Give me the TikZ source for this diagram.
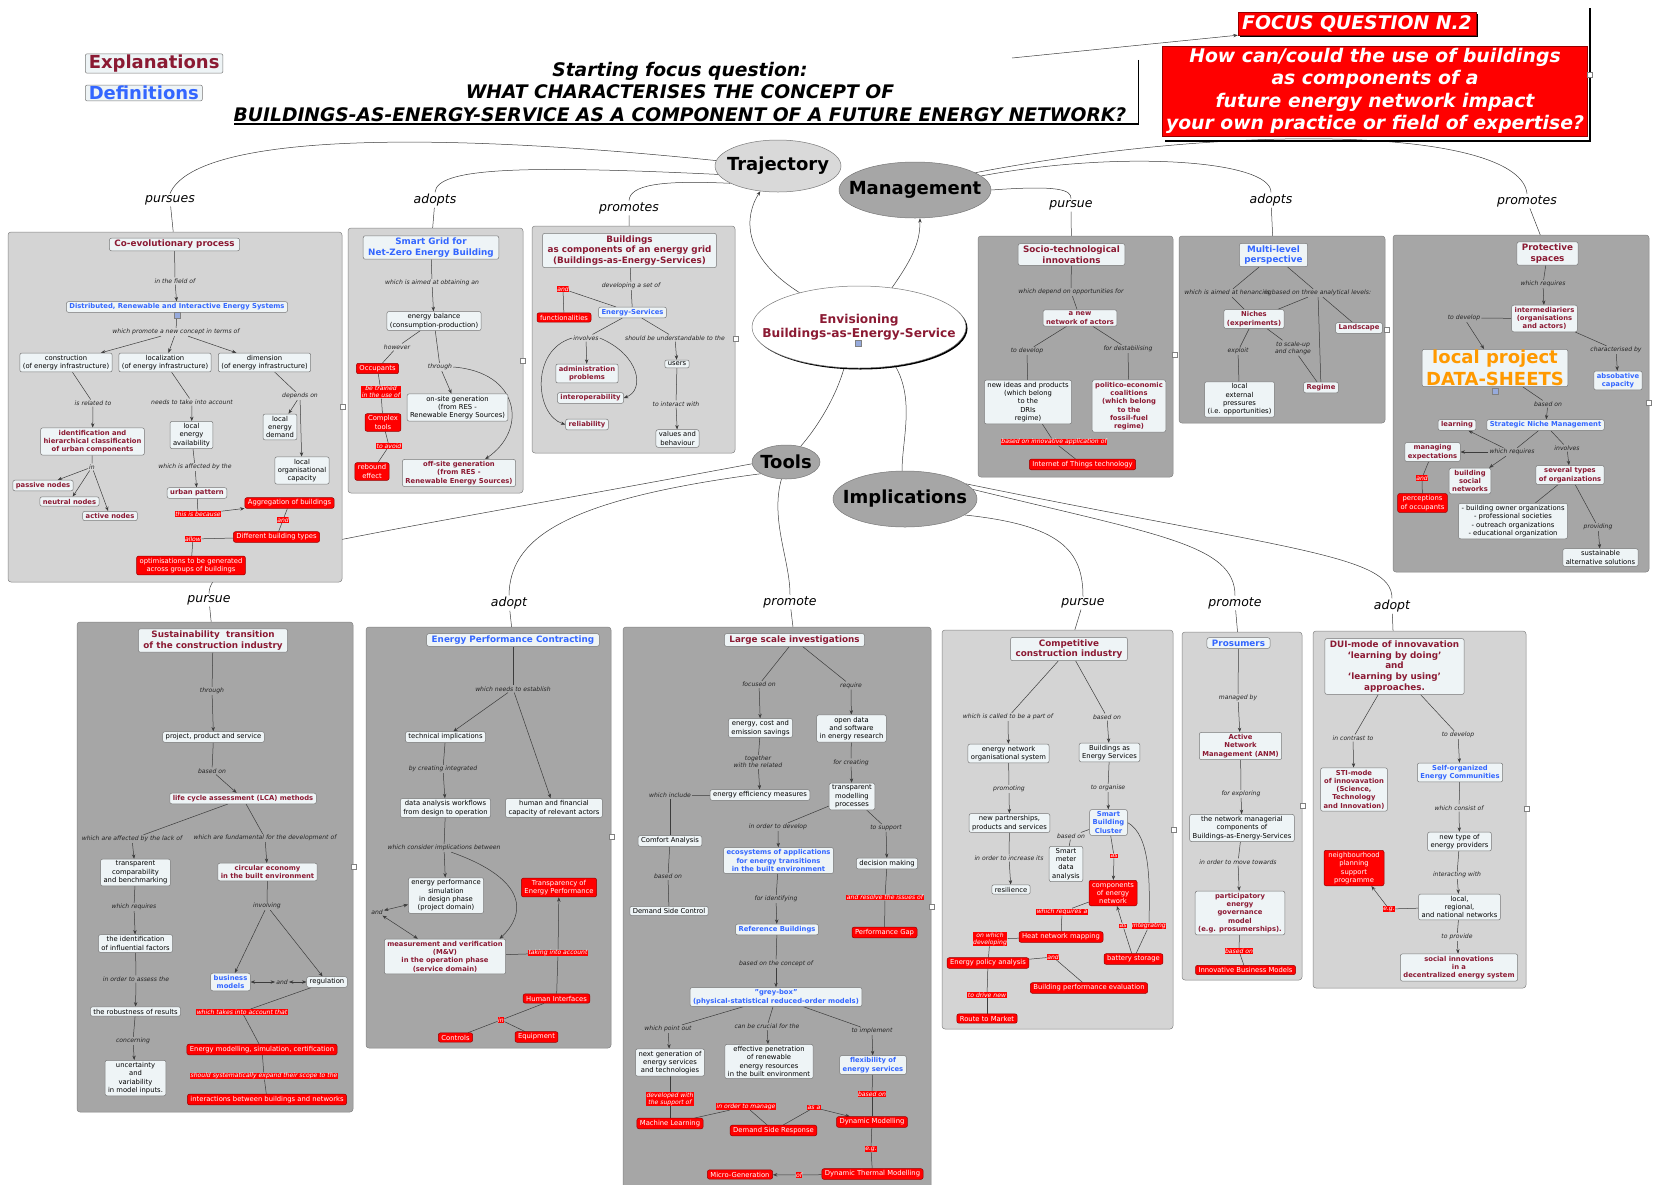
\documentclass[tikz,border=0pt]{standalone}
\usepackage{fontspec}
\setmainfont{DejaVu Sans}
\usetikzlibrary{arrows.meta,shapes.geometric,shadows}
\definecolor{expred}{RGB}{139,26,51}
\definecolor{defblue}{RGB}{51,102,255}
\definecolor{nodefill}{RGB}{238,244,246}
\definecolor{nodeline}{RGB}{120,120,120}
\definecolor{paneLight}{RGB}{212,212,212}
\definecolor{paneDark}{RGB}{166,166,166}
\definecolor{paneline}{RGB}{130,130,130}
\definecolor{linkgray}{RGB}{60,60,60}
\definecolor{labgray}{RGB}{35,35,35}
\definecolor{boxred}{RGB}{150,0,0}
\definecolor{sheetorange}{RGB}{255,153,0}
\definecolor{hubLight}{RGB}{217,217,217}
\definecolor{hubDark}{RGB}{166,166,166}
\definecolor{iconblue}{RGB}{150,170,220}
\pgfdeclarelayer{links}
\pgfdeclarelayer{panes}
\pgfdeclarelayer{inner}
\pgfsetlayers{links,panes,inner,main}
\tikzset{
  cpt/.style={draw=nodeline, fill=nodefill, rounded corners=2pt, line width=0.5pt, align=center, inner xsep=3pt, inner ysep=2pt, text=black, font=\fontsize{6.8}{8.3}\selectfont},
  cptred/.style={cpt, text=expred, font=\bfseries\fontsize{6.8}{8.3}\selectfont},
  cptblue/.style={cpt, text=defblue, font=\bfseries\fontsize{6.8}{8.3}\selectfont},
  headred/.style={cpt, inner xsep=5pt, text=expred, font=\bfseries\fontsize{8.8}{10.8}\selectfont},
  headblue/.style={cpt, inner xsep=5pt, text=defblue, font=\bfseries\fontsize{8.8}{10.8}\selectfont},
  redcpt/.style={cpt, draw=boxred, fill=red, text=white},
  lab/.style={inner sep=1pt, align=center, text=labgray, font=\itshape\fontsize{6.1}{7.2}\selectfont},
  redlab/.style={lab, fill=red, inner sep=0.5pt, text=white},
  toplab/.style={inner sep=1.5pt, text=black, font=\itshape\fontsize{12.5}{15}\selectfont},
  hub/.style={ellipse, draw=nodeline, line width=0.5pt, inner sep=-30pt, align=center, text=black, font=\bfseries\fontsize{18}{20}\selectfont},
  pane/.style={draw=paneline, line width=0.5pt, rounded corners=3pt},
  conn/.style={draw=linkgray, line width=0.5pt},
  legend/.style={cpt, inner xsep=3.5pt, inner ysep=1pt, font=\bfseries\fontsize{18}{21}\selectfont},
  sheet/.style={cpt, inner xsep=4pt, inner ysep=1pt, text=sheetorange, font=\bfseries\fontsize{18}{21.5}\selectfont},
  focusbox/.style={draw=boxred, fill=red, text=white, align=center, inner sep=0pt, font=\bfseries\itshape\fontsize{18.8}{22.5}\selectfont},
  headline/.style={align=center, inner sep=0pt, minimum width=890pt, minimum height=64pt, font=\bfseries\itshape\fontsize{18.7}{22.5}\selectfont}
}

\begin{document}
\begin{tikzpicture}[x=1pt,y=-1pt,>={Stealth[length=4.5pt,width=3.4pt]}]
\useasboundingbox (0,0) rectangle (1662,1184);

\node[legend,text=expred,anchor=west] (explan) at (85,63.5) {Explanations};
\node[legend,text=defblue,anchor=west] (defin) at (85,93) {Definitions};
\node[headline] (fq) at (680,92) {Starting focus question:\\WHAT CHARACTERISES THE CONCEPT OF\\BUILDINGS-AS-ENERGY-SERVICE AS A COMPONENT OF A FUTURE ENERGY NETWORK?};
\draw[line width=1.5pt] ([xshift=12pt]fq.north east) -- ([xshift=12pt]fq.south east) -- (fq.south west);
\coordinate (fqtail) at (1012,58);
\node[focusbox,minimum width=238pt,minimum height=23pt,drop shadow={shadow xshift=2pt,shadow yshift=-2pt,fill=black,opacity=1}] (focus) at (1357,23.5) {FOCUS QUESTION N.2};
\node[focusbox,minimum width=425pt,minimum height=90pt] (bigq) at (1375,91) {How can/could the use of buildings\\as components of a\\future energy network impact\\your own practice or field of expertise?};
\draw[line width=1.5pt] (1590,8) -- (1590,141) -- (1165,141);

\node[hub,fill=hubLight,minimum width=126pt,minimum height=52pt] (traj) at (778,166) {Trajectory};
\node[hub,fill=hubDark,minimum width=152pt,minimum height=56pt] (mgmt) at (915,190) {Management};
\node[hub,fill=white,text=expred,font=\bfseries\fontsize{12.2}{14.5}\selectfont,minimum width=214pt,minimum height=82pt,drop shadow={shadow xshift=1.5pt,shadow yshift=-1.5pt,fill=black,opacity=1}] (env) at (859,327) {Envisioning\\Buildings-as-Energy-Service};
\node[hub,fill=hubDark,minimum width=68pt,minimum height=34pt] (tools) at (786,462) {Tools};
\node[hub,fill=hubDark,minimum width=144pt,minimum height=56pt] (impl) at (905,499) {Implications};

\node[toplab] (lpursues) at (170,200) {pursues};
\node[toplab] (ladopts) at (435,200) {adopts};
\node[toplab] (lpromotes) at (629,208) {promotes};
\node[toplab] (lpursueM) at (1071,205) {pursue};
\node[toplab] (ladoptsM) at (1271,200) {adopts};
\node[toplab] (lpromotesM) at (1527,201) {promotes};
\node[toplab] (lpursueT) at (209,600) {pursue};
\node[toplab] (ladoptT) at (509,603) {adopt};
\node[toplab] (lpromoteT) at (790,602) {promote};
\node[toplab] (lpursueI) at (1083,603) {pursue};
\node[toplab] (lpromoteI) at (1235,603) {promote};
\node[toplab] (ladoptI) at (1392,606) {adopt};

\node[headred] (coevo) at (174.5,244.5) {Co-evolutionary process};
\node[lab] (lfield) at (175,281) {in the field of};
\node[cptblue] (dries) at (177,307) {Distributed, Renewable and Interactive Energy Systems};
\node[lab] (lpromote) at (176,332) {which promote a new concept in terms of};
\node[cpt] (constr) at (66,362.5) {construction\\(of energy infrastructure)};
\node[cpt] (locali) at (165,362.5) {localization\\(of energy infrastructure)};
\node[cpt] (dimen) at (264.5,362.5) {dimension\\(of energy infrastructure)};
\node[lab] (lrelated) at (93,403) {is related to};
\node[lab] (laccount) at (192,402) {needs to take into account};
\node[lab] (ldepends) at (300,396) {depends on};
\node[cptred] (ident) at (92.5,441.5) {identification and\\hierarchical classification\\of urban components};
\node[cpt] (avail) at (191.5,435) {local\\energy\\availability};
\node[cpt] (ldem) at (280,427) {local\\energy\\demand};
\node[cpt] (lorg) at (302,470.5) {local\\organisational\\capacity};
\node[lab] (lin) at (92,467) {in};
\node[cptred] (passive) at (43,485.5) {passive nodes};
\node[cptred] (neutral) at (69.5,501.5) {neutral nodes};
\node[cptred] (active) at (110,516) {active nodes};
\node[lab] (laffect) at (195,467) {which is affected by the};
\node[cptred] (urban) at (197,493) {urban pattern};
\node[redlab] (lbecause) at (198,514) {this is because};
\node[redcpt] (aggr) at (289.5,503) {Aggregation of buildings};
\node[redlab] (land1) at (283,520) {and};
\node[redcpt] (difft) at (276.5,537) {Different building types};
\node[redlab] (lallow) at (193,539) {allow};
\node[redcpt] (optim) at (191,565.5) {optimisations to be generated\\across groups of buildings};

\node[headblue] (sgrid) at (431,247.5) {Smart Grid for\\Net-Zero Energy Building};
\node[lab] (laimed) at (432,283) {which is aimed at obtaining an};
\node[cpt] (ebal) at (434,321) {energy balance\\(consumption-production)};
\node[lab] (lhowever) at (397,347) {however};
\node[lab] (lthrough) at (440,367) {through};
\node[redcpt] (occup) at (377.5,368.5) {Occupants};
\node[redlab] (ltrained) at (381,392) {be trained\\in the use of};
\node[redcpt] (complex) at (383,422.5) {Complex\\tools};
\node[redlab] (lavoid) at (389,446) {to avoid};
\node[redcpt] (rebound) at (372,471.5) {rebound\\effect};
\node[cpt] (onsite) at (457.5,407.5) {on-site generation\\(from RES -\\Renewable Energy Sources)};
\node[cptred] (offsite) at (459,473) {off-site generation\\(from RES -\\Renewable Energy Sources)};

\node[headred] (bldg) at (629.5,250.5) {Buildings\\as components of an energy grid\\(Buildings-as-Energy-Services)};
\node[lab] (lset) at (631,286) {developing a set of};
\node[cptblue] (eserv) at (632.5,312.5) {Energy-Services};
\node[redlab] (land2) at (563,289) {and};
\node[redcpt] (funct) at (564,317.5) {functionalities};
\node[lab] (linvolves) at (586,338) {involves};
\node[lab] (lunderst) at (675,338) {should be understandable to the};
\node[cptred] (admin) at (587,373.5) {administration\\problems};
\node[cptred] (interop) at (590.5,398) {interoperability};
\node[cptred] (reliab) at (587,424.5) {reliability};
\node[cpt] (users) at (677,364) {users};
\node[lab] (linteract) at (676,404) {to interact with};
\node[cpt] (values) at (677.5,438.5) {values and\\behaviour};

\node[headred] (socio) at (1071.5,254.5) {Socio-technological\\innovations};
\node[lab] (lopport) at (1071,292) {which depend on opportunities for};
\node[cptred] (netact) at (1080,318) {a new\\network of actors};
\node[lab] (ldevelop) at (1027,351) {to develop};
\node[lab] (ldestab) at (1128,349) {for destabilising};
\node[cpt] (newideas) at (1028,402) {new ideas and products\\(which belong\\to the\\DRIs\\regime)};
\node[cptred] (polit) at (1129,406) {politico-economic\\coalitions\\(which belong\\to the\\fossil-fuel\\regime)};
\node[redlab] (linnov) at (1054,442) {based on innovative application of};
\node[redcpt] (iot) at (1082.5,464.5) {Internet of Things technology};

\node[headblue] (mlp) at (1273.5,255) {Multi-level\\perspective};
\node[lab] (lhenanc) at (1228,293) {which is aimed at henancing};
\node[lab] (lthree) at (1318,293) {is based on three analytical levels:};
\node[cptred] (niches) at (1254,319) {Niches\\(experiments)};
\node[lab] (lexploit) at (1238,351) {exploit};
\node[lab] (lscale) at (1293,348) {to scale-up\\and change};
\node[cpt] (lexternal) at (1239.5,399.5) {local\\external\\pressures\\(i.e. opportunities)};
\node[cptred] (regime) at (1321,387.5) {Regime};
\node[cptred] (landsc) at (1359,328) {Landscape};

\node[headred] (protect) at (1547.5,253.5) {Protective\\spaces};
\node[lab] (lreq1) at (1543,284) {which requires};
\node[cptred] (interm) at (1544.5,318.5) {intermediariers\\(organisations\\and actors)};
\node[lab] (ldev2) at (1464,318) {to develop};
\node[lab] (lcharac) at (1616,350) {characterised by};
\node[sheet] (sheets) at (1495,368) {local project\\DATA-SHEETS};
\node[cptblue] (absob) at (1618,380.5) {absobative\\capacity};
\node[lab] (lbased2) at (1548,404) {based on};
\node[cptblue] (snm) at (1545.5,425) {Strategic Niche Management};
\node[cptred] (learning) at (1457,425) {learning};
\node[lab] (lreq2) at (1512,452) {which requires};
\node[cptred] (manag) at (1432.5,452) {managing\\expectations};
\node[cptred] (socnet) at (1470,481) {building\\social\\networks};
\node[lab] (linv2) at (1567,448) {involves};
\node[cptred] (several) at (1570,475) {several types\\of organizations};
\node[redlab] (land3) at (1422,478) {and};
\node[redcpt] (percept) at (1422.5,503) {perceptions\\of occupants};
\node[cpt] (orglist) at (1513,521) {- building owner organizations\\- professional societies\\- outreach organizations\\- educational organization};
\node[lab] (lprov) at (1598,527) {providing};
\node[cpt] (sustalt) at (1600.5,557.5) {sustainable\\alternative solutions};

\node[headred] (sust) at (213,640.5) {Sustainability~ transition\\of the construction industry};
\node[lab] (lthr2) at (212,691) {through};
\node[cpt] (ppserv) at (213.5,737) {project, product and service};
\node[lab] (lbased3) at (212,771) {based on};
\node[cptred] (lca) at (243,798.5) {life cycle assessment (LCA) methods};
\node[lab] (llack) at (132,839) {which are affected by the lack of};
\node[lab] (lfund) at (265,838) {which are fundamental for the development of};
\node[cpt] (transp) at (135.5,872.5) {transparent\\comparability\\and benchmarking};
\node[cptred] (circ) at (267.5,872) {circular economy\\in the built environment};
\node[lab] (lreq3) at (134,907) {which requires};
\node[lab] (linvolving) at (267,906) {involving};
\node[cpt] (identinf) at (135.5,943.5) {the identification\\of influential factors};
\node[lab] (lassess) at (136,979) {in order to assess the};
\node[cptblue] (business) at (230.5,982) {business\\models};
\node[lab] (land4) at (282,982) {and};
\node[cpt] (regul) at (327,982) {regulation};
\node[cpt] (robust) at (135.5,1011.5) {the robustness of results};
\node[redlab] (ltakes) at (242,1012) {which takes into account that};
\node[redcpt] (energymod) at (262,1049.5) {Energy modelling, simulation, certification};
\node[lab] (lconcern) at (133,1041) {concerning};
\node[cpt] (uncert) at (135.5,1078) {uncertainty\\and\\variability\\in model inputs.};
\node[redlab] (lexpand) at (264,1076) {should systematically expand their scope to the};
\node[redcpt] (interbn) at (267,1099.5) {interactions between buildings and networks};

\node[headblue] (epc) at (513,640) {Energy Performance Contracting};
\node[lab] (lestab) at (513,689) {which needs to establish};
\node[cpt] (techimp) at (445.5,737) {technical implications};
\node[lab] (lcreate) at (443,769) {by creating integrated};
\node[cpt] (dataflow) at (445.5,808) {data analysis workflows\\from design to operation};
\node[cpt] (humfin) at (554,808) {human and financial\\capacity of relevant actors};
\node[lab] (lconsider) at (444,848) {which consider implications between};
\node[cpt] (epsim) at (446,895.5) {energy performance\\simulation\\in design phase\\(project domain)};
\node[lab] (land5) at (377,912) {and};
\node[cptred] (mv) at (445,956.5) {measurement and verification\\(M\&V)\\in the operation phase\\(service domain)};
\node[redcpt] (transpE) at (559,887.5) {Transparency of\\Energy Performance};
\node[redlab] (ltaking) at (558,953) {taking into account};
\node[redcpt] (humint) at (556.5,998.5) {Human Interfaces};
\node[redlab] (lin2) at (501,1020) {in};
\node[redcpt] (controls) at (455.5,1037.5) {Controls};
\node[redcpt] (equip) at (536.5,1037) {Equipment};

\node[headred] (lsi) at (794.5,640) {Large scale investigations};
\node[lab] (lfocus) at (759,684.5) {focused on};
\node[lab] (lrequire) at (851,685.5) {require};
\node[cpt] (ecs) at (760.5,728) {energy, cost and\\emission savings};
\node[cpt] (opendata) at (851.5,728.5) {open data\\and software\\in energy research};
\node[lab] (ltogether) at (758,762) {together\\with the related};
\node[lab] (lcreating) at (851,762.5) {for creating};
\node[cpt] (eem) at (760,795) {energy efficiency measures};
\node[cpt] (tmp) at (852,796.5) {transparent\\modelling\\processes};
\node[lab] (linclude) at (670,795.5) {which include};
\node[cpt] (comfort) at (670,841) {Comfort Analysis};
\node[lab] (lbased4) at (668,876.5) {based on};
\node[cpt] (dsc) at (669,911) {Demand Side Control};
\node[lab] (lorder) at (778,827) {in order to develop};
\node[lab] (lsupport) at (886,828) {to support};
\node[cptblue] (ecosys) at (778.5,860.5) {ecosystems of applications\\for energy transitions\\in the built environment};
\node[cpt] (decis) at (887,863.5) {decision making};
\node[lab] (lidentify) at (776,899) {for identifying};
\node[redlab] (lresolve) at (885,897.5) {and resolve the issues of};
\node[cptblue] (refb) at (777,929.5) {Reference Buildings};
\node[redcpt] (perfgap) at (884.5,932.5) {Performance Gap};
\node[lab] (lconcept) at (776,963.5) {based on the concept of};
\node[cptblue] (greybox) at (776,997) {"grey-box"\\(physical-statistical reduced-order models)};
\node[lab] (lpoint) at (668,1029) {which point out};
\node[lab] (lcrucial) at (767,1026.5) {can be crucial for the};
\node[lab] (limpl) at (872,1031) {to implement};
\node[cpt] (nextgen) at (670,1062.5) {next generation of\\energy services\\and technologies};
\node[cpt] (effpen) at (769,1061.5) {effective penetration\\of renewable\\energy resources\\in the built environment};
\node[cptblue] (flex) at (873,1065) {flexibility of\\energy services};
\node[redlab] (lsupp) at (670,1099) {developed with\\the support of};
\node[redlab] (lbased5) at (872,1094) {based on};
\node[redcpt] (mlearn) at (670,1123.5) {Machine Learning};
\node[redlab] (lmanage) at (746,1106.5) {in order to manage};
\node[redlab] (lasa) at (814,1107.5) {as a};
\node[redcpt] (dsr) at (773.5,1130.5) {Demand Side Response};
\node[redcpt] (dynmod) at (872,1122) {Dynamic Modelling};
\node[redlab] (leg1) at (871,1149) {e.g.};
\node[redcpt] (dtm) at (872.5,1174) {Dynamic Thermal Modelling};
\node[redlab] (lof) at (799,1175) {of};
\node[redcpt] (microgen) at (740,1174.5) {Micro-Generation};

\node[headred] (compet) at (1069,649) {Competitive\\construction industry};
\node[lab] (lpart) at (1008,717) {which is called to be a part of};
\node[lab] (lbased6) at (1107,717) {based on};
\node[cpt] (enos) at (1008.5,753.5) {energy network\\organisational system};
\node[cpt] (baes) at (1109.5,752.5) {Buildings as\\Energy Services};
\node[lab] (lpromoting) at (1009,789) {promoting};
\node[lab] (lorganise) at (1108,788) {to organise};
\node[cpt] (newpart) at (1009.5,823) {new partnerships,\\products and services};
\node[cptblue] (sbc) at (1108.5,822.5) {Smart\\Building\\Cluster};
\node[lab] (lbased7) at (1071,836) {based on};
\node[cpt] (smdata) at (1066,864) {Smart\\meter\\data\\analysis};
\node[lab] (lincrease) at (1009,858) {in order to increase its};
\node[cpt] (resil) at (1011,889.5) {resilience};
\node[redlab] (las1) at (1114,856) {as};
\node[redcpt] (compnet) at (1113,893) {components\\of energy\\network};
\node[redlab] (lreqa) at (1062,912) {which requires a};
\node[redcpt] (heatmap) at (1061,937) {Heat network mapping};
\node[redlab] (lwhich) at (990,939) {on which\\developing};
\node[redcpt] (epa) at (988,963) {Energy policy analysis};
\node[redlab] (land6) at (1053,957) {and};
\node[redcpt] (bpe) at (1089,988) {Building performance evaluation};
\node[redlab] (ldrive) at (987,995) {to drive new};
\node[redcpt] (route) at (987,1018.5) {Route to Market};
\node[redcpt] (battery) at (1133.5,959) {battery storage};
\node[redlab] (las2) at (1123,926) {as};
\node[redlab] (linteg) at (1149,926) {integrating};

\node[headblue] (prosum) at (1238.5,643) {Prosumers};
\node[lab] (lmanaged) at (1238,698) {managed by};
\node[cptred] (anm) at (1240.5,746) {Active\\Network\\Management (ANM)};
\node[lab] (lexplore) at (1241,794) {for exploring};
\node[cpt] (netman) at (1242,828) {the network managerial\\components of\\Buildings-as-Energy-Services};
\node[lab] (ltowards) at (1238,862) {in order to move towards};
\node[cptred] (pegm) at (1240,913) {participatory\\energy\\governance\\model\\(e.g. prosumerships).};
\node[redlab] (lbased8) at (1239,951) {based on};
\node[redcpt] (ibm) at (1245.5,970) {Innovative Business Models};

\node[headred] (dui) at (1394.5,666.5) {DUI-mode of innovavation\\`learning by doing'\\and\\`learning by using'\\approaches.};
\node[lab] (lcontrast) at (1353,738) {in contrast to};
\node[lab] (ldev3) at (1458,735) {to develop};
\node[cptred] (sti) at (1354,789.5) {STI-mode\\of innovavation\\(Science,\\Technology\\and Innovation)};
\node[cptblue] (seec) at (1460,772.5) {Self-organized\\Energy Communities};
\node[lab] (lconsist) at (1459,808) {which consist of};
\node[cpt] (ntep) at (1459.5,841.5) {new type of\\energy providers};
\node[lab] (linter) at (1457,875) {interacting with};
\node[redcpt,minimum width=60pt] (nps) at (1354,868) {neighbourhood\\planning\\support\\programme};
\node[cpt] (lrn) at (1459.5,907) {local,\\regional,\\and national networks};
\node[redlab] (leg2) at (1389,909) {e.g.};
\node[lab] (lprovide) at (1457,937) {to provide};
\node[cptred] (socinn) at (1459,967.5) {social innovations\\in a\\decentralized energy system};

\foreach \x/\y in {343/407,523/361,736/339,1175/355,1387/330,1649/403,354/867,612/837,932/907,1174/830,1303/806,1527/809,1590/75}
  \draw[draw=gray,fill=white,line width=0.3pt] (\x-2.5,\y-2.5) rectangle (\x+2.5,\y+2.5);
\foreach \x/\y in {177/315,858/343,1495/391}
  \draw[draw=gray,fill=iconblue,line width=0.3pt] (\x-3,\y-3) rectangle (\x+3,\y+3);

\begin{pgfonlayer}{links}
\draw[conn,->] (fqtail) -- (focus.south west);
\draw[conn] (traj.175) .. controls (420,130) and (195,135) .. (lpursues.north);
\draw[conn] (lpursues) -- (coevo);
\draw[conn] (traj.188) .. controls (520,165) and (437,168) .. (ladopts.north);
\draw[conn] (ladopts) -- (sgrid);
\draw[conn] (traj.200) .. controls (660,180) and (630,185) .. (lpromotes.north);
\draw[conn] (lpromotes) -- (bldg);
\draw[conn] (mgmt.east) .. controls (1060,185) and (1071,190) .. (lpursueM.north);
\draw[conn] (lpursueM) -- (socio);
\draw[conn] (mgmt.12) .. controls (1120,150) and (1271,160) .. (ladoptsM.north);
\draw[conn] (ladoptsM) -- (mlp);
\draw[conn] (mgmt.16) .. controls (1250,120) and (1520,130) .. (lpromotesM.north);
\draw[conn] (lpromotesM) -- (protect);
\draw[conn,->] (env.150) .. controls (740,255) and (745,215) .. (traj.235);
\draw[conn,->] (env.50) .. controls (915,255) and (920,240) .. (mgmt.280);
\draw[conn] (env.250) .. controls (835,400) and (815,430) .. (tools.47);
\draw[conn] (env.313) .. controls (915,400) and (902,440) .. (impl.96);
\draw[conn] (tools.183) .. controls (300,548) and (210,555) .. (lpursueT.north);
\draw[conn] (lpursueT) -- (sust);
\draw[conn] (tools.205) .. controls (560,500) and (510,540) .. (ladoptT.north);
\draw[conn] (ladoptT) -- (epc);
\draw[conn] (tools.255) .. controls (770,520) and (790,560) .. (lpromoteT.north);
\draw[conn] (lpromoteT) -- (lsi);
\draw[conn] (impl.345) .. controls (1060,525) and (1083,550) .. (lpursueI.north);
\draw[conn] (lpursueI) -- (compet);
\draw[conn] (impl.8) .. controls (1160,535) and (1235,545) .. (lpromoteI.north);
\draw[conn] (lpromoteI) -- (prosum);
\draw[conn] (impl.14) .. controls (1290,550) and (1392,555) .. (ladoptI.north);
\draw[conn] (ladoptI) -- (dui);
\end{pgfonlayer}

\begin{pgfonlayer}{panes}
\draw[pane,fill=paneLight] (8,232) rectangle (342,582);
\draw[pane,fill=paneLight] (348,228) rectangle (523,493);
\draw[pane,fill=paneLight] (532,226) rectangle (735,453);
\draw[pane,fill=paneDark] (978,236) rectangle (1173,477);
\draw[pane,fill=paneDark] (1179,236) rectangle (1385,423);
\draw[pane,fill=paneDark] (1393,235) rectangle (1649,572);
\draw[pane,fill=paneDark] (77,622) rectangle (353,1112);
\draw[pane,fill=paneDark] (366,627) rectangle (611,1048);
\draw[pane,fill=paneDark] (623,627) rectangle (931,1190);
\draw[pane,fill=paneLight] (942,630) rectangle (1173,1029);
\draw[pane,fill=paneLight] (1182,632) rectangle (1302,980);
\draw[pane,fill=paneLight] (1313,631) rectangle (1526,988);
\end{pgfonlayer}

\begin{pgfonlayer}{inner}
\draw[conn] (coevo) -- (lfield);
\draw[conn,->] (lfield) -- (dries);
\draw[conn] (dries) -- (lpromote);
\foreach \t in {constr,locali,dimen} \draw[conn,->] (lpromote) -- (\t);
\draw[conn] (constr) -- (lrelated);
\draw[conn,->] (lrelated) -- (ident);
\draw[conn] (locali) -- (laccount);
\draw[conn,->] (laccount) -- (avail);
\draw[conn] (dimen) -- (ldepends);
\draw[conn,->] (ldepends) -- (ldem);
\draw[conn,->] (ldepends) -- (lorg);
\draw[conn] (ident) -- (lin);
\foreach \t in {passive,neutral,active} \draw[conn,->] (lin) -- (\t);
\draw[conn] (avail) -- (laffect);
\draw[conn,->] (laffect) -- (urban);
\draw[conn] (urban) -- (lbecause);
\draw[conn,->] (lbecause) -- (aggr);
\draw[conn] (aggr) -- (land1);
\draw[conn] (land1) -- (difft);
\draw[conn] (difft) -- (lallow);
\draw[conn] (lallow) -- (optim);

\draw[conn] (sgrid) -- (laimed);
\draw[conn,->] (laimed) -- (ebal);
\draw[conn] (ebal) -- (lhowever);
\draw[conn] (lhowever) -- (occup);
\draw[conn] (ebal) -- (lthrough);
\draw[conn,->] (lthrough) -- (onsite);
\draw[conn,->] (lthrough.east) .. controls (520,372) and (528,430) .. (offsite.28);
\draw[conn] (occup) -- (ltrained);
\draw[conn] (ltrained) -- (complex);
\draw[conn] (complex) -- (lavoid);
\draw[conn] (lavoid) -- (rebound);

\draw[conn] (bldg) -- (lset);
\draw[conn] (lset) -- (eserv);
\draw[conn] (eserv) -- (land2);
\draw[conn] (land2) -- (funct);
\draw[conn] (eserv) -- (linvolves);
\draw[conn,->] (linvolves) -- (admin);
\draw[conn,->] (linvolves.east) .. controls (640,355) and (645,390) .. (interop.east);
\draw[conn,->] (linvolves.west) .. controls (530,350) and (535,415) .. (reliab.west);
\draw[conn] (eserv) -- (lunderst);
\draw[conn,->] (lunderst) -- (users);
\draw[conn] (users) -- (linteract);
\draw[conn,->] (linteract) -- (values);

\draw[conn] (socio) -- (lopport);
\draw[conn] (lopport) -- (netact);
\draw[conn] (netact) -- (ldevelop);
\draw[conn] (ldevelop) -- (newideas);
\draw[conn] (netact) -- (ldestab);
\draw[conn] (ldestab) -- (polit);
\draw[conn] (newideas) -- (linnov);
\draw[conn] (linnov) -- (iot);

\draw[conn] (mlp) -- (lhenanc);
\draw[conn] (lhenanc) -- (niches);
\draw[conn] (mlp) -- (lthree);
\foreach \t in {niches,regime,landsc} \draw[conn] (lthree) -- (\t);
\draw[conn] (niches) -- (lexploit);
\draw[conn] (lexploit) -- (lexternal);
\draw[conn] (niches) -- (lscale);
\draw[conn] (lscale) -- (regime);

\draw[conn] (protect) -- (lreq1);
\draw[conn,->] (lreq1) -- (interm);
\draw[conn] (interm) -- (ldev2);
\draw[conn,->] (ldev2) -- (sheets.120);
\draw[conn] (interm) -- (lcharac);
\draw[conn,->] (lcharac) -- (absob);
\draw[conn] (sheets) -- (lbased2);
\draw[conn,->] (lbased2) -- (snm);
\draw[conn] (snm) -- (lreq2);
\foreach \t in {learning,manag,socnet} \draw[conn,->] (lreq2) -- (\t);
\draw[conn] (snm) -- (linv2);
\draw[conn,->] (linv2) -- (several);
\draw[conn] (manag) -- (land3);
\draw[conn] (land3) -- (percept);
\draw[conn] (several) -- (orglist);
\draw[conn] (several) -- (lprov);
\draw[conn,->] (lprov) -- (sustalt);

\draw[conn] (sust) -- (lthr2);
\draw[conn,->] (lthr2) -- (ppserv);
\draw[conn] (ppserv) -- (lbased3);
\draw[conn,->] (lbased3) -- (lca);
\draw[conn] (lca) -- (llack);
\draw[conn,->] (llack) -- (transp);
\draw[conn] (lca) -- (lfund);
\draw[conn,->] (lfund) -- (circ);
\draw[conn] (transp) -- (lreq3);
\draw[conn,->] (lreq3) -- (identinf);
\draw[conn] (identinf) -- (lassess);
\draw[conn,->] (lassess) -- (robust);
\draw[conn] (robust) -- (lconcern);
\draw[conn,->] (lconcern) -- (uncert);
\draw[conn] (circ) -- (linvolving);
\draw[conn,->] (linvolving) -- (business);
\draw[conn,->] (linvolving) -- (regul);
\draw[conn,<->] (business) -- (land4);
\draw[conn,<->] (land4) -- (regul);
\draw[conn] (regul) -- (ltakes);
\draw[conn] (ltakes) -- (energymod);
\draw[conn] (energymod) -- (lexpand);
\draw[conn] (lexpand) -- (interbn);

\draw[conn] (epc) -- (lestab);
\draw[conn,->] (lestab) -- (techimp);
\draw[conn,->] (lestab) -- (humfin);
\draw[conn] (techimp) -- (lcreate);
\draw[conn,->] (lcreate) -- (dataflow);
\draw[conn] (dataflow) -- (lconsider);
\draw[conn,->] (lconsider) -- (epsim);
\draw[conn,->] (lconsider.-30) .. controls (530,880) and (525,915) .. (mv.18);
\draw[conn,<->] (land5) -- (epsim);
\draw[conn,<->] (land5) -- (mv);
\draw[conn] (mv) -- (ltaking);
\draw[conn] (humint) -- (ltaking);
\draw[conn,->] (ltaking) -- (transpE);
\draw[conn] (humint) -- (lin2);
\draw[conn] (lin2) -- (controls);
\draw[conn] (lin2) -- (equip);

\draw[conn] (lsi) -- (lfocus);
\draw[conn,->] (lfocus) -- (ecs);
\draw[conn] (lsi) -- (lrequire);
\draw[conn,->] (lrequire) -- (opendata);
\draw[conn] (ecs) -- (ltogether);
\draw[conn,->] (ltogether) -- (eem);
\draw[conn] (opendata) -- (lcreating);
\draw[conn,->] (lcreating) -- (tmp);
\draw[conn] (eem) -- (linclude);
\draw[conn] (linclude) -- (comfort);
\draw[conn] (comfort) -- (lbased4);
\draw[conn] (lbased4) -- (dsc);
\draw[conn] (tmp) -- (lorder);
\draw[conn,->] (lorder) -- (ecosys);
\draw[conn] (tmp) -- (lsupport);
\draw[conn,->] (lsupport) -- (decis);
\draw[conn] (decis) -- (lresolve);
\draw[conn] (lresolve) -- (perfgap);
\draw[conn] (ecosys) -- (lidentify);
\draw[conn,->] (lidentify) -- (refb);
\draw[conn] (refb) -- (lconcept);
\draw[conn,->] (lconcept) -- (greybox);
\draw[conn] (greybox) -- (lpoint);
\draw[conn,->] (lpoint) -- (nextgen);
\draw[conn] (greybox) -- (lcrucial);
\draw[conn,->] (lcrucial) -- (effpen);
\draw[conn] (greybox) -- (limpl);
\draw[conn,->] (limpl) -- (flex);
\draw[conn] (nextgen) -- (lsupp);
\draw[conn] (lsupp) -- (mlearn);
\draw[conn] (flex) -- (lbased5);
\draw[conn] (lbased5) -- (dynmod);
\draw[conn] (mlearn) -- (lmanage);
\draw[conn] (lmanage) -- (dsr);
\draw[conn] (dsr) -- (lasa);
\draw[conn,->] (lasa) -- (dynmod);
\draw[conn] (dynmod) -- (leg1);
\draw[conn] (leg1) -- (dtm);
\draw[conn] (dtm) -- (lof);
\draw[conn,->] (lof) -- (microgen);

\draw[conn] (compet) -- (lpart);
\draw[conn,->] (lpart) -- (enos);
\draw[conn] (compet) -- (lbased6);
\draw[conn,->] (lbased6) -- (baes);
\draw[conn] (enos) -- (lpromoting);
\draw[conn,->] (lpromoting) -- (newpart);
\draw[conn] (baes) -- (lorganise);
\draw[conn,->] (lorganise) -- (sbc);
\draw[conn] (newpart) -- (lincrease);
\draw[conn,->] (lincrease) -- (resil);
\draw[conn] (sbc) -- (lbased7);
\draw[conn] (lbased7) -- (smdata);
\draw[conn] (sbc) -- (las1);
\draw[conn,->] (las1) -- (compnet);
\draw[conn] (compnet) -- (lreqa);
\draw[conn] (lreqa) -- (heatmap);
\draw[conn] (heatmap) -- (lwhich);
\draw[conn] (lwhich) -- (epa);
\draw[conn] (epa) -- (land6);
\draw[conn] (land6) -- (bpe);
\draw[conn] (epa) -- (ldrive);
\draw[conn] (ldrive) -- (route);
\draw[conn] (battery) -- (las2);
\draw[conn,->] (las2) -- (compnet);
\draw[conn] (sbc.east) .. controls (1150,835) and (1150,880) .. (linteg.north);
\draw[conn] (linteg) -- (battery);

\draw[conn] (prosum) -- (lmanaged);
\draw[conn,->] (lmanaged) -- (anm);
\draw[conn] (anm) -- (lexplore);
\draw[conn,->] (lexplore) -- (netman);
\draw[conn] (netman) -- (ltowards);
\draw[conn,->] (ltowards) -- (pegm);
\draw[conn] (pegm) -- (lbased8);
\draw[conn] (lbased8) -- (ibm);

\draw[conn] (dui) -- (lcontrast);
\draw[conn,->] (lcontrast) -- (sti);
\draw[conn] (dui) -- (ldev3);
\draw[conn,->] (ldev3) -- (seec);
\draw[conn] (seec) -- (lconsist);
\draw[conn,->] (lconsist) -- (ntep);
\draw[conn] (ntep) -- (linter);
\draw[conn,->] (linter) -- (lrn);
\draw[conn] (lrn) -- (leg2);
\draw[conn,->] (leg2) -- (nps.-46);
\draw[conn] (lrn) -- (lprovide);
\draw[conn,->] (lprovide) -- (socinn);
\end{pgfonlayer}
\end{tikzpicture}
\end{document}
